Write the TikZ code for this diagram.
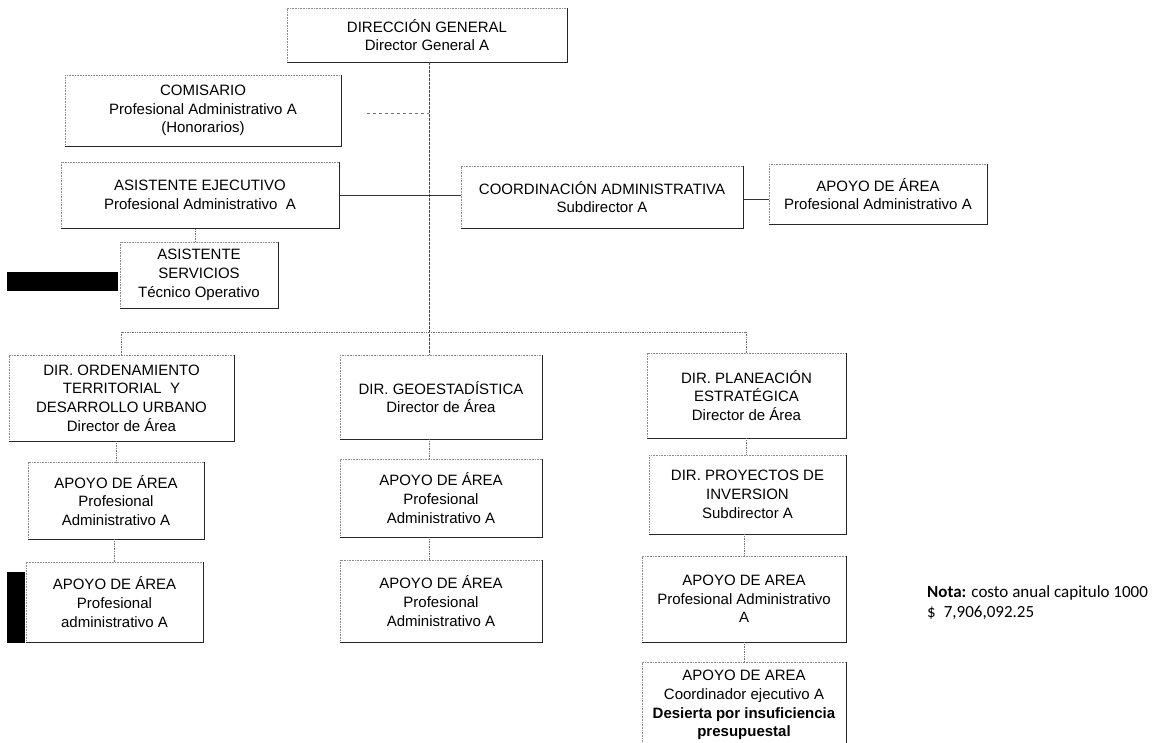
\documentclass[tikz,border=0pt]{standalone}
\usepackage{fontspec}
\setmainfont{Liberation Sans}
\newfontfamily\calib{Carlito}
\begin{document}
\begin{tikzpicture}[x=1pt,y=-1pt,
  bx/.style={align=center, inner sep=0pt, font=\fontsize{15}{18.7}\selectfont},
  bxtop/.style={draw=black!45, line width=0.6pt, densely dotted},
  bxbot/.style={draw=black!85, line width=0.9pt},
  conn/.style={draw=black!55, line width=0.7pt, densely dotted},
  trunkln/.style={draw=black!75, line width=0.8pt, densely dashed, dash pattern=on 3pt off 1pt},
  solidln/.style={draw=black!80, line width=0.8pt}]
\path[use as bounding box] (0,0) rectangle (1157,742);
\clip (0,0) rectangle (1157,742);
\fill[white] (0,0) rectangle (1157,742);

\node[bx, minimum width=280, minimum height=54] (dg) at (427,35) {DIRECCIÓN GENERAL\\Director General A};
\node[bx, minimum width=276, minimum height=71] (com) at (203,110.5) {COMISARIO\\Profesional Administrativo A\\(Honorarios)};
\node[bx, minimum width=278, minimum height=66] (aej) at (200,195) {ASISTENTE EJECUTIVO\\Profesional Administrativo\ \ A};
\node[bx, minimum width=282, minimum height=62] (coord) at (602,197) {COORDINACIÓN ADMINISTRATIVA\\Subdirector A};
\node[bx, minimum width=218, minimum height=60] (apoyotr) at (878,194) {APOYO DE ÁREA\\Profesional Administrativo A};
\node[bx, minimum width=158, minimum height=66] (aserv) at (199,275) {ASISTENTE\\SERVICIOS\\Técnico Operativo};
\node[bx, minimum width=225, minimum height=86] (dord) at (121.5,398) {DIR. ORDENAMIENTO\\TERRITORIAL\ \ Y\\DESARROLLO URBANO\\Director de Área};
\node[bx, minimum width=202, minimum height=84] (dgeo) at (441,397) {DIR. GEOESTADÍSTICA\\Director de Área};
\node[bx, minimum width=199, minimum height=85] (dplan) at (746.5,395.5) {DIR. PLANEACIÓN\\ESTRATÉGICA\\Director de Área};
\node[bx, minimum width=176, minimum height=77] (al1) at (116,500.5) {APOYO DE ÁREA\\Profesional\\Administrativo A};
\node[bx, minimum width=177, minimum height=80] (al2) at (114.5,602) {APOYO DE ÁREA\\Profesional\\administrativo A};
\node[bx, minimum width=202, minimum height=78] (ag1) at (441,498) {APOYO DE ÁREA\\Profesional\\Administrativo A};
\node[bx, minimum width=202, minimum height=82] (ag2) at (441,601) {APOYO DE ÁREA\\Profesional\\Administrativo A};
\node[bx, minimum width=197, minimum height=79] (dproy) at (747.5,494.5) {DIR. PROYECTOS DE\\INVERSION\\Subdirector A};
\node[bx, minimum width=204, minimum height=86] (ap1) at (744,599) {APOYO DE AREA\\Profesional Administrativo\\A};
\node[bx, minimum width=204, minimum height=86] (ap2) at (744,705) {APOYO DE AREA\\Coordinador ejecutivo A\\\textbf{Desierta por insuficiencia}\\\textbf{presupuestal}};

\foreach \n in {dg,com,aej,coord,apoyotr,aserv,dord,dgeo,dplan,al1,al2,ag1,ag2,dproy,ap1,ap2}{
  \draw[bxtop] (\n.south west) -- (\n.north west) -- (\n.north east);
  \draw[bxbot] (\n.north east) -- (\n.south east) -- (\n.south west);
}

% redaction bars
\fill[black] (7,272) rectangle (118,291);
\fill[black] (7,572) rectangle (25,643);

% connectors
\coordinate (bus) at (429,332);
\draw[trunkln] (dg.south -| bus) -- (dgeo.north -| bus);
\draw[conn, dashed] ([xshift=26pt,yshift=-2.5pt]com.east) -- ([yshift=-2.5pt]com.east -| bus);
\draw[solidln] (aej.east) -- (aej.east -| coord.west);
\draw[solidln] ([yshift=-2pt]coord.east) -- ([yshift=-2pt]coord.east -| apoyotr.west);
\draw[conn] (aserv.north -| 195,0) -- (aej.south -| 195,0);
\draw[conn] (dord.north |- bus) -- (dplan.north |- bus);
\draw[conn] (dord.north |- bus) -- (dord.north);
\draw[conn] (dplan.north |- bus) -- (dplan.north);
\draw[conn] (dord.south -| al1.north) -- (al1.north);
\draw[conn] (al1.south -| al2.north) -- (al2.north);
\draw[conn] (dgeo.south -| bus) -- (ag1.north -| bus);
\draw[conn] (ag1.south -| bus) -- (ag2.north -| bus);
\draw[conn] (dplan.south) -- (dproy.north -| dplan.south);
\draw[conn] (dproy.south -| ap1.north) -- (ap1.north);
\draw[conn] (ap1.south) -- (ap2.north);

% note
\node[anchor=west, align=left, inner sep=0pt, font=\calib\fontsize{17}{20}\selectfont] (nota) at (927,603)
  {\textbf{Nota:} costo anual capitulo 1000\\\$\hspace{8pt}7,906,092.25};
\end{tikzpicture}
\end{document}
